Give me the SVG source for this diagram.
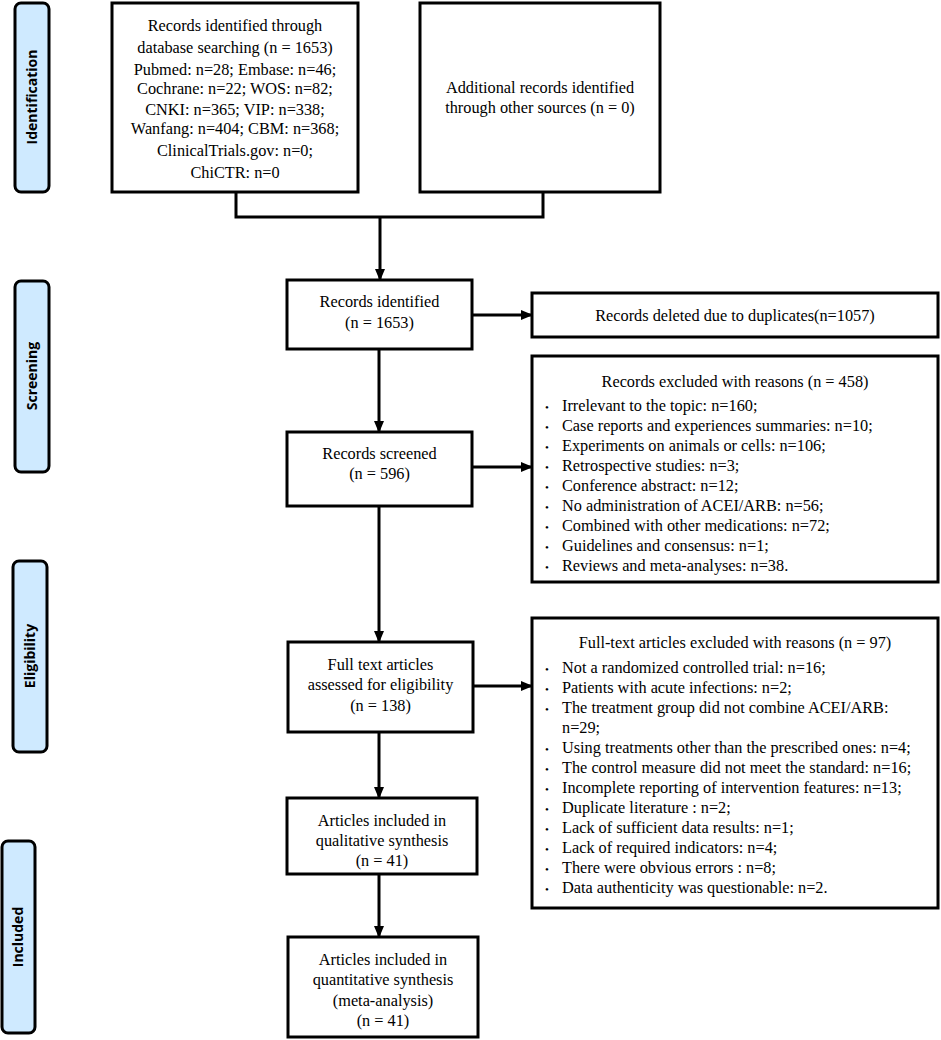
<svg xmlns="http://www.w3.org/2000/svg" width="941" height="1040" viewBox="0 0 941 1040">
<style>
.box{fill:#fff;stroke:#000;stroke-width:3}
.phase{fill:#cfeaff;stroke:#000;stroke-width:3}
.t{font-family:"Liberation Serif","Times New Roman",serif;font-size:16.3px;fill:#000}
.c{text-anchor:middle}
.b{font-size:11px}
.lab{font-family:"Open Sans","Noto Sans",sans-serif;font-weight:bold;font-size:14px;fill:#000;text-anchor:middle}
.ln{fill:none;stroke:#000;stroke-width:3}
</style>
<defs>
<marker id="ah" markerUnits="userSpaceOnUse" markerWidth="12" markerHeight="10" refX="11" refY="5" orient="auto">
<path d="M0,0 L12,5 L0,10 Z" fill="#000"/>
</marker>
</defs>
<g id="phases">
<g id="phase-identification"><rect class="phase" x="15" y="3" width="34" height="189" rx="6"/><text class="lab" transform="translate(37,97) rotate(-90)">Identification</text></g>
<g id="phase-screening"><rect class="phase" x="15" y="281" width="34" height="191" rx="6"/><text class="lab" transform="translate(37,376) rotate(-90)">Screening</text></g>
<g id="phase-eligibility"><rect class="phase" x="13" y="561" width="34" height="191" rx="6"/><text class="lab" transform="translate(35,656) rotate(-90)">Eligibility</text></g>
<g id="phase-included"><rect class="phase" x="2" y="841" width="33" height="192" rx="6"/><text class="lab" transform="translate(23,937) rotate(-90)">Included</text></g>
</g>
<g id="connectors">
<path class="ln" d="M236,192 V217 H543 V192"/>
<line class="ln" x1="380" y1="217" x2="380" y2="280" marker-end="url(#ah)"/>
<line class="ln" x1="379" y1="349" x2="379" y2="432" marker-end="url(#ah)"/>
<line class="ln" x1="379" y1="506" x2="379" y2="642" marker-end="url(#ah)"/>
<line class="ln" x1="379" y1="732" x2="379" y2="798" marker-end="url(#ah)"/>
<line class="ln" x1="379" y1="874" x2="379" y2="937" marker-end="url(#ah)"/>
<line class="ln" x1="472" y1="315" x2="532" y2="315" marker-end="url(#ah)"/>
<line class="ln" x1="472" y1="467" x2="532" y2="467" marker-end="url(#ah)"/>
<line class="ln" x1="473" y1="686" x2="532" y2="686" marker-end="url(#ah)"/>
</g>
<g id="db-search">
<rect class="box" x="112" y="3" width="246" height="189"/>
<text class="t c" x="235" y="30.5">Records identified through</text>
<text class="t c" x="235" y="52.5">database searching (n = 1653)</text>
<text class="t c" x="235" y="74.5">Pubmed: n=28; Embase: n=46;</text>
<text class="t c" x="235" y="93.5">Cochrane: n=22; WOS: n=82;</text>
<text class="t c" x="235" y="114.5">CNKI: n=365; VIP: n=338;</text>
<text class="t c" x="235" y="133.5">Wanfang: n=404; CBM: n=368;</text>
<text class="t c" x="235" y="155.5">ClinicalTrials.gov: n=0;</text>
<text class="t c" x="235" y="177.5">ChiCTR: n=0</text>
</g>
<g id="other-sources">
<rect class="box" x="420" y="3" width="240" height="189"/>
<text class="t c" x="540" y="92.5">Additional records identified</text>
<text class="t c" x="540" y="112.5">through other sources (n = 0)</text>
</g>
<g id="records-identified">
<rect class="box" x="287" y="280" width="185" height="69"/>
<text class="t c" x="379.5" y="306.5">Records identified</text>
<text class="t c" x="379.5" y="327.5">(n = 1653)</text>
</g>
<g id="duplicates">
<rect class="box" x="532" y="293" width="406" height="44"/>
<text class="t c" x="735" y="320.5">Records deleted due to duplicates(n=1057)</text>
</g>
<g id="records-screened">
<rect class="box" x="287" y="432" width="185" height="74"/>
<text class="t c" x="379.5" y="458.5">Records screened</text>
<text class="t c" x="379.5" y="478.5">(n = 596)</text>
</g>
<g id="records-excluded">
<rect class="box" x="532" y="356" width="406" height="226"/>
<text class="t c" x="735" y="386.5">Records excluded with reasons (n = 458)</text>
<g class="t">
<text x="545" y="410.5" class="b">•</text><text x="562" y="410.5">Irrelevant to the topic: n=160;</text>
<text x="545" y="430.5" class="b">•</text><text x="562" y="430.5">Case reports and experiences summaries: n=10;</text>
<text x="545" y="450.5" class="b">•</text><text x="562" y="450.5">Experiments on animals or cells: n=106;</text>
<text x="545" y="470.5" class="b">•</text><text x="562" y="470.5">Retrospective studies: n=3;</text>
<text x="545" y="490.5" class="b">•</text><text x="562" y="490.5">Conference abstract: n=12;</text>
<text x="545" y="510.5" class="b">•</text><text x="562" y="510.5">No administration of ACEI/ARB: n=56;</text>
<text x="545" y="530.5" class="b">•</text><text x="562" y="530.5">Combined with other medications: n=72;</text>
<text x="545" y="550.5" class="b">•</text><text x="562" y="550.5">Guidelines and consensus: n=1;</text>
<text x="545" y="570.5" class="b">•</text><text x="562" y="570.5">Reviews and meta-analyses: n=38.</text>
</g>
</g>
<g id="full-text">
<rect class="box" x="288" y="642" width="185" height="90"/>
<text class="t c" x="380.5" y="669.5">Full text articles</text>
<text class="t c" x="380.5" y="689.5">assessed for eligibility</text>
<text class="t c" x="380.5" y="710.5">(n = 138)</text>
</g>
<g id="fulltext-excluded">
<rect class="box" x="532" y="618" width="406" height="290"/>
<text class="t c" x="735" y="647.5">Full-text articles excluded with reasons (n = 97)</text>
<g class="t">
<text x="545" y="672.5" class="b">•</text><text x="562" y="672.5">Not a randomized controlled trial: n=16;</text>
<text x="545" y="692.5" class="b">•</text><text x="562" y="692.5">Patients with acute infections: n=2;</text>
<text x="545" y="712.5" class="b">•</text><text x="562" y="712.5">The treatment group did not combine ACEI/ARB:</text>
<text x="562" y="732.5">n=29;</text>
<text x="545" y="752.5" class="b">•</text><text x="562" y="752.5">Using treatments other than the prescribed ones: n=4;</text>
<text x="545" y="772.5" class="b">•</text><text x="562" y="772.5">The control measure did not meet the standard: n=16;</text>
<text x="545" y="792.5" class="b">•</text><text x="562" y="792.5">Incomplete reporting of intervention features: n=13;</text>
<text x="545" y="812.5" class="b">•</text><text x="562" y="812.5">Duplicate literature : n=2;</text>
<text x="545" y="832.5" class="b">•</text><text x="562" y="832.5">Lack of sufficient data results: n=1;</text>
<text x="545" y="852.5" class="b">•</text><text x="562" y="852.5">Lack of required indicators: n=4;</text>
<text x="545" y="872.5" class="b">•</text><text x="562" y="872.5">There were obvious errors : n=8;</text>
<text x="545" y="892.5" class="b">•</text><text x="562" y="892.5">Data authenticity was questionable: n=2.</text>
</g>
</g>
<g id="qualitative">
<rect class="box" x="287" y="798" width="190" height="76"/>
<text class="t c" x="382" y="825.5">Articles included in</text>
<text class="t c" x="382" y="845.5">qualitative synthesis</text>
<text class="t c" x="382" y="865.5">(n = 41)</text>
</g>
<g id="quantitative">
<rect class="box" x="288" y="937" width="190" height="100"/>
<text class="t c" x="383" y="964.5">Articles included in</text>
<text class="t c" x="383" y="984.5">quantitative synthesis</text>
<text class="t c" x="383" y="1005.5">(meta-analysis)</text>
<text class="t c" x="383" y="1025.5">(n = 41)</text>
</g>
</svg>
